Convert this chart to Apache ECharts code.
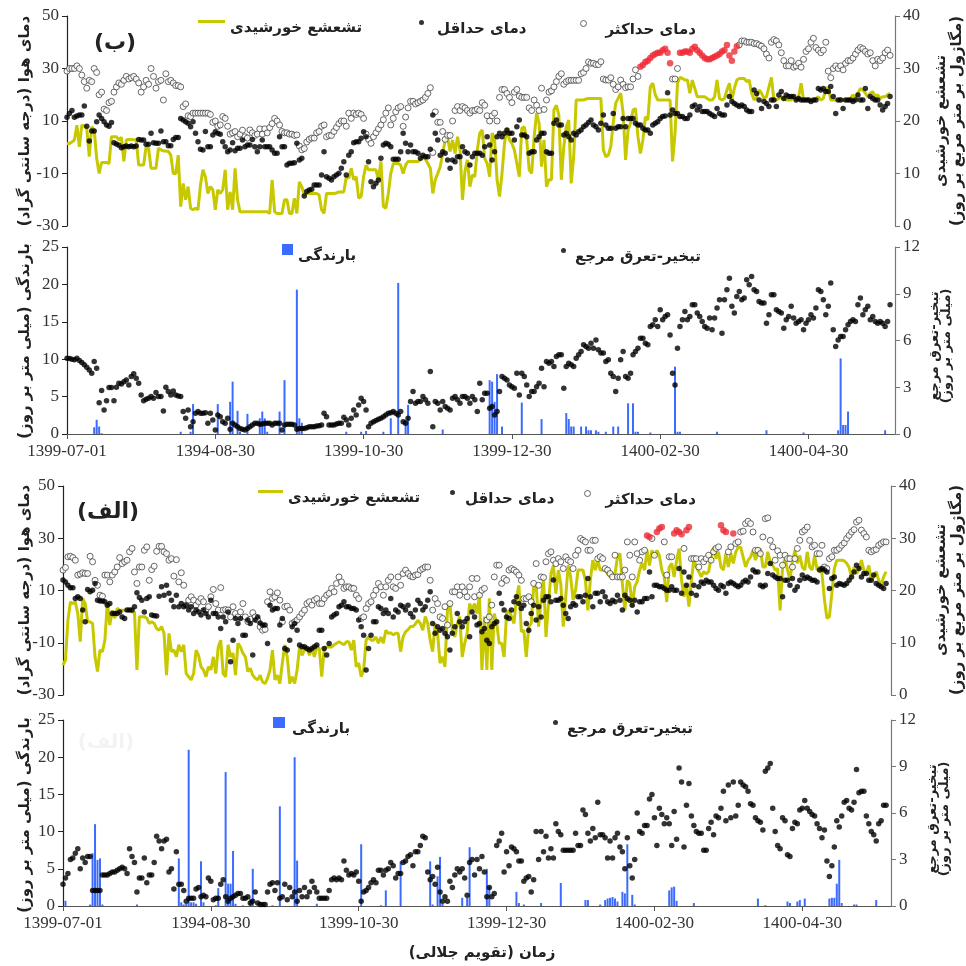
<!DOCTYPE html>
<html>
<head>
<meta charset="utf-8">
<title>chart</title>
<script src="https://cdn.jsdelivr.net/npm/echarts@6/dist/echarts.min.js"></script>
<style>
  html, body { margin: 0; padding: 0; background: #fff; }
  #main { width: 966px; height: 966px; }
</style>
</head>
<body>
<div id="main"></div>
<script type="text/javascript">
// day 0 = 1399-07-01, one value per day
var tickDays = [0, 60, 120, 180, 240, 300];
var tickLabels = ['1399-07-01', '1394-08-30', '1399-10-30', '1399-12-30', '1400-02-30', '1400-04-30'];

// ---- panel (ب) ----
var tmaxB = [
  29,30,30,30,31,30,27.5,25,22.5,25.5,25,30,28.5,20,21,14.5,14,17,17.5,21,
  23,24.5,24,25.5,27,26,26.5,27,26,24.5,21,23,25.5,24,30,27,22.5,25,25.5,18,
  28,25,25.5,24.5,23.5,23.5,23,15.5,16.5,12,11.7,13,13,13,13,13,13,13,12.5,9.5,
  10,8,8.5,11.7,11,8,5,5.5,6,4,5,6.5,4,3.5,6.6,5.5,4.5,5,7,5,
  7,5.5,7.5,9,11,10,8.5,6,5.5,5.5,5,5,4.5,4.7,0.5,-1,-0.5,2,3,3.5,
  3.5,5.5,6,8,8.5,4,4.5,4.5,6,7.5,9,10,10,8,13,11,13,12.5,13,12.5,
  11,5,3,1.5,4,5.5,7,8.5,10.5,13,15,8.5,11,13.5,15,15.5,8,11.5,15,17.5,
  17.5,16.5,17,17.5,18,19,20.5,22.7,-2,13.5,9.5,9.5,6,3,4.5,4.5,10,14,15.5,14,
  15.5,15,14,13,14,14,14.5,14,17,16,12,10,12,13,10,19,22,22,20.5,19,
  17,21,22,19.5,19,19,19,15,14,18,16,14,22.5,14.4,18,21,21.5,23,25,27,
  28,24,25,25.5,25.5,25.5,25.5,25.5,28,28.5,30,32.5,32,32,31.5,31.5,32.6,26,25.6,25.6,
  26.5,24,22,23,25.6,24,22.7,23,23,26,29.5,27,30.7,31.3,32.5,33,34,35,35.5,36,
  36,37,37.5,36,32,26,26,30,36,36,36.5,36.5,36,37.5,38.3,37,36,35,34,33.5,
  33.5,34,34.5,35,35.5,36.5,37,39,35,33,36.5,38.5,39,40.5,40.5,40,40,40,39.5,39.5,
  39,38.5,37.5,35.5,34,40,41,40.5,39,36,33,31,31,33,30.5,31,32,30.5,33.5,36.5,
  37.5,40,41.5,38,37,36,37,40,29,26.5,30,31,30,31,29.5,32,33,33,34,35.5,
  37,38,37.5,36.5,35.5,36,33,31,33.5,33,34,36,37,35
];
var tminB = [
  11.4,12.9,14,11.4,11.9,12.3,12.3,15.7,8,2.4,6.2,6.2,9.7,12.3,11,9.7,8.5,8,9.4,1.7,
  1.2,0.8,-0.2,0.2,0.5,0.2,0.5,0.2,0.5,3,2.8,2.8,1.1,1.1,5.3,1.7,1.5,1.5,6.2,2.1,
  2.1,0.6,0.6,3,3.7,3.7,11,10.4,9.7,9.1,7.8,9.7,5.3,2.1,-0.8,-1,6,0.2,0.2,4.7,
  5.9,5.3,5,2.1,0.2,-1.7,-1,1.7,-1.3,-0.4,-0.4,2.8,0.2,0.9,0.9,3,0.2,-1.7,0.2,2.8,
  0.2,0.2,0.2,-1,-2.3,-2.3,4,0.2,0.2,-6.8,-6.1,-6.1,-5.9,1.5,-4.9,-4.2,-18.6,-16.9,-16.3,-16,
  -14.4,-14.4,-14.4,-10.6,-1.7,-11.2,-11.8,-12.5,-11.2,-10.6,-9.9,-8,-5.5,-10.6,-3,-1.7,1.7,2.1,2.1,3.4,
  5.9,4,-5.5,-13.1,-15,-13.7,-12.5,-4.2,0.9,1.5,1.1,0.2,-4.6,-4.6,-4.6,-1.7,5.3,1.5,-1.7,0.9,
  -1.7,-1.7,-2.3,-4.2,-3,-3.6,-3.6,-0.8,12.3,5.3,2.8,-3,-1.7,-2.3,-4.9,-8,-4.9,-5.5,-3.6,-3.6,
  0.2,-1.7,-2.3,-6.8,-3.6,-2.3,-2.3,-2.3,-3,0.2,4,0.9,-4.9,-1.7,4,5.3,4,5.3,6.6,5.3,
  5.3,2.8,7.8,10.4,4.7,4.7,4,-2.3,-1.7,-1.7,2.8,4,5.3,5.3,-1.7,-2.3,-2.3,9.1,10.4,8.5,
  8.5,4.7,5.3,4,2.8,5.3,4.7,5.9,6.6,7.8,8.5,9.4,10.4,8.5,7.8,6.6,9.1,12.3,8.5,7.2,
  7.2,12.9,7.2,7.8,7.8,11,7.8,11,11,11,9.1,8.5,8.5,7.2,6.6,6.6,5.3,8.5,9.1,9.7,
  11,11.7,11.9,20.8,12.3,14.2,12.9,12.9,11.7,11.7,11,11,12.3,15.5,16.1,14.2,15.5,13.6,13.6,13.6,
  12.9,12.3,11.7,14.8,12.9,12.3,12.3,16.1,19.3,17.4,16.7,16.1,15.5,16.1,15.5,14.2,13.6,13.6,21.8,20.5,
  18,14.8,17.4,16.7,15.5,18,18,15.5,19.9,21.2,18.6,19.9,19.3,19.3,19.3,18,18.6,18,18,18,
  18,17.4,18,18,22.4,21.8,22.4,21.2,21.2,23.1,19.3,12.9,18,18,14.8,18,18,18,17.4,18,
  19.9,18,18,22.4,14.8,19.3,18.6,18,18,16.1,14.2,15.5,16.7,19.3
];
var rsB = [
  15.7,15.7,16,16.4,19.2,15.1,19.2,19,18.6,13.2,18.9,18.3,12.9,10,12.1,12.1,12.1,11.9,17,17,
  17,16.4,16.9,12.3,16.4,16.5,16.5,16.4,16.5,11.6,11.6,11.6,15.1,14.8,11,11,11,14.8,14.5,14.3,
  14.3,14.2,13.5,10,10,13.5,3.7,8.1,5,7.5,3.4,3.1,3.4,3.1,7.8,10.7,9.4,6.2,7.5,6.9,
  3.1,6.9,6.2,6.9,10.7,3.1,6.5,3.1,11,5,2.7,2.7,2.7,2.7,2.7,2.7,2.7,2.7,2.7,2.7,
  2.7,2.7,2.4,8.8,2.7,2.4,2.4,2.4,5,5,2.4,2.4,5.3,2.4,8.4,7.5,5.9,6.2,6.2,6.2,
  6.2,6.2,5.9,3.1,2.4,6.2,6.2,6.2,6.2,6.3,6.5,6.5,6.5,9.4,9.1,11,8.8,9.4,5.3,5.6,
  9.4,11.6,10.7,10.7,10.7,10.7,8.8,12.3,3.7,3.4,6.2,10,11.9,11.9,11.9,11.6,10,11.6,12.3,12.3,
  12.3,12.3,12.3,12.6,13.2,12.7,11.9,11,6.2,8.8,10,11.3,13.8,16.4,16.7,14.2,16.4,13.8,17,14.5,
  5,10.4,12.6,7.5,9.7,9.4,14.5,17.7,18.3,12.9,11.9,9.4,17.7,16.4,8.8,5.6,10,15.7,18.6,16.4,
  15.7,14.5,11.9,9.4,18.6,18.9,16.4,10.7,10,17,21.5,19.6,11.3,16.4,7.5,8.8,8.8,22.1,23,21.1,
  8.8,15.1,18.9,20.2,8.1,13.2,24,24,24,24,24.2,24.3,24.3,24.3,24.3,24.3,24.3,14.5,13.2,13.5,
  15.1,19.6,23.4,24.3,25.3,21.5,12.6,18.3,19.6,22.1,22.4,17,13.8,16.4,20.8,20.2,26.5,27.2,25,24,
  24,24,24,24,24,12.3,17.7,27.2,28.3,28.1,27.8,27.8,25.3,27.8,26.2,24.6,24.6,24.6,24.6,24.3,
  24,24,24.6,27.8,24.3,24,24.3,25.9,27.2,24,26.2,27.8,28.1,28.1,28.1,27.5,27.8,25.3,24,24.6,
  25.9,25.3,24.3,24.6,26.5,28.3,24,24,24.3,24.6,24.3,24,24,24,24.6,24,24.6,27.2,24,24,
  24.3,24,24,24.3,24.6,24,24.3,25.9,26.5,24,24,24,24,24.3,24,24,24,24.3,25,24,
  25.3,26.2,25.9,25.3,24.6,25.3,25.6,24.6,25,24.3,24.6,24.6,25,25.3
];
var et0B = [
  4.86,4.84,4.8,4.76,4.86,4.71,4.59,4.44,4.29,4.11,3.9,4.65,4.22,2.01,2.79,1.54,2.14,2.98,2.98,2.14,
  3,3.26,3.21,3.36,3.47,3.15,3.69,3.86,3.58,3.26,2.51,2.14,2.23,2.29,2.4,2.29,2.66,2.4,2.4,1.48,
  3,2.72,2.51,2.76,2.51,2.44,2.4,1.44,1.01,1.54,0.47,0.79,1.33,1.44,1.33,1.33,1.37,0.69,1.33,0.9,
  0.26,1.22,1.11,0.79,0.69,1.01,0.3,0.69,0.58,0.47,0.36,0.3,0.26,0.36,0.47,0.58,0.69,0.69,0.62,0.64,
  0.69,0.69,0.69,0.58,0.69,0.69,0.69,0.26,0.58,0.62,0.62,0.62,0.58,0.3,0.36,0.36,0.36,0.4,0.47,0.47,
  0.47,0.51,0.53,0.58,1.33,1.11,0.58,0.58,0.58,0.64,0.69,0.69,1.07,0.9,0.58,1.01,1.54,1.22,1.86,2.29,
  2.08,1.54,0.47,0.69,0.79,0.86,0.94,1.01,1.11,1.22,1.33,1.37,1.44,1.33,1.22,1.44,0.79,0.69,1.01,2.08,
  2.72,1.97,2.08,2.08,2.4,2.19,1.97,4.01,0.47,2.08,1.97,1.54,2.08,1.76,1.65,1.54,2.29,2.4,2.19,1.97,
  2.4,2.4,2.29,1.97,2.4,2.19,1.44,3.26,2.19,2.61,2.61,1.65,1.76,1.22,1.44,2.72,3.69,3.58,3.47,3.15,
  3.04,2.94,3.9,2.51,3.9,3.69,3.15,2.4,2.72,2.72,3.04,3.26,4.22,3.04,4.65,4.54,4.65,4.33,4.97,5.08,
  5.08,2.94,4.33,4.54,4.44,4.33,4.86,5.08,5.29,5.72,5.61,5.51,5.83,5.51,6.04,5.4,5.19,5.19,4.65,4.76,
  3.9,3.69,2.72,3.58,4.76,5.29,3.69,3.58,3.9,5.08,5.29,5.51,6.15,6.15,5.83,5.72,6.9,7.01,7.33,6.9,
  7.97,7.33,7.54,7.65,6.36,3.9,3.15,5.51,6.9,7.33,7.86,7.33,7.54,8.29,8.29,7.76,7.54,7.22,6.9,6.79,
  7.44,6.69,7.44,8.08,8.61,6.47,8.61,9.26,10,8.19,7.76,8.83,9.15,8.61,8.72,9.9,9.58,10.1,9.26,9.15,
  8.51,8.4,8.4,7.11,7.65,8.94,8.94,7.97,7.86,7.76,6.79,7.33,7.54,8.19,7.44,7.11,7.22,7.33,6.69,7.11,
  7.33,7.65,7.44,8.08,9.26,9.15,8.61,7.65,8.19,9.69,6.69,5.61,6.04,6.26,6.26,6.69,7.01,7.22,7.33,7.22,
  8.29,8.72,7.65,7.97,8.19,7.33,7.54,7.22,7.11,7.22,7.11,6.9,7.22,8.29
];
// [day, mm]
var rainB = [
  [11,0.9],[12,1.9],[13,1],[14,0.1],[46,0.3],[50,0.3],[51,4],[61,4],[66,4.3],[67,7],[69,3.1],[70,0.3],
  [73,2.7],[78,2.1],[79,3],[80,2.1],[81,0.3],[86,3],[88,7.2],[93,19.3],[94,2.1],[95,1.5],[113,0.3],
  [119,0.3],[121,0.4],[128,0.3],[131,2.1],[134,20.2],[137,1.9],[138,3.9],[152,0.6],[171,7.2],[172,7],
  [173,4.3],[174,8],[176,1],[184,4.2],[192,2],[202,2.8],[203,2],[204,1],[205,1],[208,1],[210,1],
  [211,0.5],[212,0.5],[214,0.5],[215,0.3],[218,0.3],[221,1],[223,1],[227,4.1],[229,4.1],[230,0.3],
  [231,0.3],[236,0.2],[246,9],[247,0.3],[248,0.3],[263,0.3],[283,0.5],[298,0.2],[312,0.5],[313,10.1],
  [314,1.2],[315,1.2],[316,3],[331,0.5]
];
// days whose maximum is drawn in red
var hotB = [232,233,234,235,236,237,238,239,240,241,242,243,244,248,249,250,251,252,253,254,255,256,
  257,258,259,260,261,262,263,264,265,266,267,268,269,270,271];

// ---- panel (الف) ----
var tmaxA = [
  17.8,18.8,22.9,23.1,22.6,21.6,15.9,16.3,16.8,16.5,16.5,23.1,21,13.9,12,8.2,7.8,15.9,15.9,13.3,
  15.9,17.1,19,22.6,20.3,21,21.6,24.8,26.1,17.1,12.7,19,19,25.4,26.7,13.9,18,19.3,25,26.9,
  26.9,24.8,24.1,21.6,22.2,15.5,21.8,13.3,16.8,12,4.4,6.3,7.6,6.3,4.4,5.7,6.9,5.7,2.5,3.8,
  7.6,10.4,5,2.5,11.1,2.5,2.7,2.5,-0.1,3.8,1.2,-0.1,1.8,5,-0.1,-1.9,-1,1.5,-0.1,-1.3,
  -3.9,-5.2,-4.9,5.7,9.5,7,7.6,9.1,6.3,-2,3.8,4,2.5,-2.6,-2,-1.3,-0.1,1.2,2.5,5,
  5.7,4.4,6.3,6.9,5,5,6.9,8.2,8.9,10.8,9.5,12.7,15.2,13.3,10.8,11.4,11.4,10.8,10.8,8.2,
  6.9,-0.7,-0.1,3.1,5,5.7,8.2,10.1,12.7,11.4,8.2,11.4,13.9,15.2,11.4,10.8,15.2,12,16.5,17.8,
  16.5,15.5,15.2,15.9,16.1,17.8,18.4,19,19,13.9,2.5,6.9,5,-0.1,-0.7,3.8,-3.2,5,9.5,9.5,
  11.4,8.2,11.4,9.5,7.6,11.4,14.6,7.6,14.6,8.2,10.1,10.8,-1.3,-0.1,4.4,15.2,19.7,19.7,12.7,14.6,
  13.9,17.8,18.4,17.8,17.1,15.9,13.9,6.9,6.9,7.6,5.7,12.7,20.3,12,15.2,15,21,24.1,24.8,21.6,
  20.3,22.2,21,18.4,22.9,21.6,21,18.4,23.5,25.4,29.9,29.2,28.6,25.4,25.4,29.2,29.2,22.2,22.9,22.2,
  18.4,17.8,16.5,15.2,23.5,15.2,15.2,15.2,17.8,28.6,23.5,15.2,28.6,24.1,21.6,24.8,25.4,31.1,30.5,29.9,
  23.5,32.4,33.7,34.3,28.6,15.9,22.9,22.9,31.8,33.1,32.4,31.5,26.1,33.1,34.3,22.2,22.2,22.2,19,22.2,
  21,22.2,23.5,21.6,24.8,26.1,26.7,35,33.1,32.4,24.8,26.7,31.8,28,28.6,32.4,32.7,35.6,36.5,35.6,
  32.4,25.4,25.4,24.1,30.5,37.5,37.8,29.2,26.7,21.6,25.2,23.5,19.7,23.5,22.2,22.2,19,22.2,26.1,29.2,
  32.4,33.1,34.3,29.2,26.7,27.3,24.1,24.1,27.3,19,18.4,22.2,22.9,25.4,25.4,26.1,27.3,28.2,29.9,31.1,
  32.4,33.3,36.2,36.9,33.1,31.8,30.5,25.4,24.8,25.4,25.7,27.3,28,28.6,28.6
];
var tminA = [
  14,13.3,12,11.1,11.1,6.9,7.6,6.9,2.5,-2,10.4,9.5,10.1,12.7,6.3,6,6,5.7,4.4,5,
  1.2,1.2,1.2,1.8,-0.1,-0.7,2.5,2.5,2.5,3.8,9.1,7.3,6.3,1.8,6.9,7.6,0.6,0.3,0.2,7.8,
  11.4,8.2,12,8.9,6.3,3.8,8.2,3.8,5,3.8,4.4,2.5,3.8,1.2,2.5,1.8,0.6,2.5,1.2,-0.1,
  6.3,1.2,1.2,-0.1,-4.5,-0.1,-2,1.8,-17.3,-9,-0.7,-2.6,-0.7,-7.1,-7.1,-1.3,-2.6,-14.7,-1.3,-0.1,
  -2.4,-3.2,-3.2,-10.3,4.4,2.5,3.1,3.1,-3.2,-0.7,-12.2,-12.8,-9,-3.9,-2.6,-5.2,-10.9,-11.5,-11.5,-12.2,
  -12.8,-12.2,-11.5,-10.9,-5.2,-5.2,-12.2,-14.7,-10.3,-0.1,0.6,1.2,3.8,4.4,5.7,3.8,3.8,3.1,3.1,2.5,
  -1.3,-3.9,-7.1,-20.4,-12.2,-7.1,-2,-2,3.8,3.1,1.2,2.5,1.2,6.9,-0.1,2.5,1.8,4.4,3.8,2.5,
  4.4,1.2,-0.1,2.5,6.3,5,2.5,3.8,6.3,9.5,-2.6,-6.4,-3.9,-5.2,-4.5,-6.4,-7.7,-12.8,-6.4,-3.9,
  1.2,-2,-3.9,-2,-0.7,-7.7,1.8,-0.1,-3.2,-2.6,-5.8,-4.5,-9,-10.3,-3.9,-2.6,-2,8.9,5,2.5,
  -0.1,-0.7,2.5,5.7,7.6,5,3.1,4.4,-2.6,-5.2,1.2,4.4,-1.3,3.8,-0.1,6.3,7.6,7.6,5.7,14,
  6.3,6.3,6.9,4.4,1.2,-0.7,3.8,5,4.4,7.6,7.6,5.7,8.2,14.6,7.6,3.8,8.9,8.9,5.7,9.5,
  7.6,5.7,5,6.3,5.7,8.2,6.3,2.5,8.2,6.9,6.3,4.4,6.3,1.8,5.7,5.7,6.9,6.9,17.1,7.6,
  12,12,11.4,11.4,10.8,10.1,10.1,11.4,10.1,10.1,18.4,8.9,17.1,12,15.2,8.9,12,8.2,11.4,13.3,
  12.7,13.9,13.3,13.3,12,10.8,10.1,12,11.4,8.9,12.7,13.3,12.7,12,11.4,12,13.3,13.9,13.3,15.2,
  17.8,17.1,17.1,12,11.4,12,16.5,20.3,15.9,15.2,14.6,14.6,7.6,13.9,13.9,12,14.6,10.1,11.4,13.9,
  15.9,14.6,15.2,14.6,13.9,13.9,13.3,17.8,18.4,17.8,17.1,10.8,14.6,15.2,12,12.7,12.4,12,12.7,13.9,
  15.2,17.1,19.7,18.4,15.2,16.5,16.5,13.9,13.9,15.9,12.7,12,11.4,10.8,12.7
];
var rsA = [
  5.7,6.7,14.3,17.8,17.5,17.8,15.6,10.2,18.5,17.5,14,14,13.7,7.3,4.5,8.6,8.3,10.5,17.8,13.4,
  16.2,14.7,16.6,16.2,16.2,16.2,16.2,16.2,15.9,15.9,4.8,15,15,15,14.7,13.7,14,13.7,12.7,12.4,
  13.1,11.8,3.8,11.8,8.3,8.6,7.3,9.6,8.3,9.6,4.1,3.5,2.9,4.1,8.6,7.6,5.4,4.8,3.5,5.4,
  4.8,7.3,4.1,9.2,10.5,4.1,3.5,9.6,7.3,8,3.8,9.9,9.2,8,7.3,4.5,5.1,3.8,3.2,2.9,
  3.8,2.5,2.2,3.2,4.8,8.6,2.9,3.8,2.2,6.1,9.6,7.3,2.2,3.5,2.2,4.8,9.2,7.6,8.7,8.9,
  7.6,8.9,7.3,9.2,8.9,3.5,8.9,9.2,9.2,9.2,9.6,9.9,10.2,9.9,9.6,10.2,10.2,8.6,10.5,5.4,
  6.1,3.5,4.8,10.5,11.1,10.5,10.5,11.1,9.9,11.1,9.9,12.4,11.8,11.9,11.5,11.8,11.8,8.3,11.1,12.1,
  12.5,13.1,13.1,13.6,14.3,13.7,12.4,15,13.7,10.5,8.3,13.7,11.8,6.1,7.3,5.4,16.2,17.5,12.4,11.1,
  13.7,15,7.3,9.9,11.8,17.5,16.2,17.5,15.6,19.1,4.8,15,4.8,18.5,4.8,15.6,13.7,9.9,9.9,7.3,
  15.6,16.2,15,13.7,18.5,21,12.1,12.4,7.3,13.1,13.7,20.7,21.3,13.1,17.8,22.3,11.1,17.5,23.2,24.8,
  19.4,23.9,21.3,13.1,18.8,24.8,22.6,18.2,20.1,23.9,23.9,23.9,22,16.2,22,25.8,23.9,25.8,23.9,23.9,
  23.9,23.2,22.6,23.2,23.2,26.4,27.1,21.3,16.2,22,21.3,16.9,20.7,21.7,23.9,25.2,23.9,27.7,24.8,27.7,
  26.4,27.7,26.7,23.9,22.6,17.8,24.5,25.2,22.6,25.8,28,22,18.8,21.3,16.9,22,25.9,24.5,23.6,22.6,
  23.6,23.2,23.6,26.4,28.3,26.1,27.4,24.5,23.9,27.1,24.5,27.1,25.2,27.4,28.3,28.3,26.4,24.5,25.8,26.4,
  27.7,25.8,27.4,28,24.5,24.5,27.4,25.5,24.8,23.9,24.2,16.2,24.5,26.1,24,22,25.5,27.7,25.2,26.7,
  24.5,23.9,27.4,24.5,23.9,26.7,23.9,24.5,23.2,18.2,14.7,15,19.4,24.2,25.8,25.8,25.8,25.7,25.2,24.4,
  22.6,24.5,23.2,24.2,25.8,23.9,23.2,24.8,22,22.6,23.6,22,21,22.6,23.6
];
var et0A = [
  1.4,1.8,2.1,3,3.1,3.4,3.7,2.4,3.1,2.8,3.2,3.2,1,1,1,1,2,2,2,2.1,
  2.2,2.2,2.3,2.4,2.5,2.4,2.1,3.7,3.2,2.8,0.9,1.8,1.8,3.1,1.5,2,2,2.8,4.5,4.2,
  3.7,4.2,4.3,2.2,2.4,1.1,3.5,1.4,1.4,1,0.3,0.5,0.5,0.5,1.1,1.2,0.6,0.7,0.6,1.8,
  1.6,0.4,0.5,0.5,1.4,1.7,0.6,0.3,0.5,0.6,0.7,0.8,0.8,0.5,0.5,0.6,0.2,0.3,0.9,0.2,
  0.1,0.1,0.1,0.9,1.4,1.5,1,1.5,0.5,0.6,1.4,0.4,1.2,0.6,0.9,0.3,1,0.6,1.2,0.6,
  0.9,1.6,1.2,0.9,0.5,0.5,0.5,0.5,1,1.7,1.8,1.7,1.8,1.7,2.9,2.3,2,2.1,2,2.2,
  1.6,0.3,0.9,1,1.2,1.5,1.7,1.5,2.3,2.3,2,2.3,2.4,2.8,2.6,1.8,2.1,2.1,2.8,2.9,
  3.2,3.3,2.6,3.5,3.5,3.9,4.5,4.4,2.2,1.7,1.9,1.4,2.5,0.9,0.3,0.6,0.3,1.6,1.2,2,
  2.4,2.2,2.4,1.8,0.7,2.8,3,2,3,2.4,3.2,2.2,0.6,1.2,0.6,0.8,3.9,4.2,4.7,2.2,
  3.5,2.6,3.8,3.7,3.5,2.9,2.9,1.6,1.8,1.9,0.9,1.7,4.8,3,4.8,3.5,4.5,3.1,3.7,3.1,
  5.3,4.8,4.6,3.6,3.6,3.6,3.6,3.6,4.7,3.9,3.9,6.2,5.9,4.7,4.2,5,4.4,6.7,4.6,4.6,
  4.4,3.1,4.2,3.1,4.4,4.7,3.8,3.5,2.4,4.4,2.6,1.8,3,6,4.8,4.7,5.2,5.2,6.9,7.2,
  5.7,3.9,6.3,5.9,5.3,5.7,5.3,3.9,6.1,4.3,8.9,8,3.8,6.5,7.9,5.8,5.2,4.8,4.7,4.7,
  3.6,3.6,5,5.4,4.6,5.8,5.7,6.3,7.4,5.5,7.8,5.7,8,5.8,6.5,8,7.8,7.7,7.4,6.6,
  6.5,5.7,5.5,5.4,4.9,8.7,8.9,9.2,6.3,4.8,3.9,3.7,5.7,5.5,3.3,3.2,5,5.4,5.3,6.2,
  6.3,6.8,6.3,6.1,5.9,5.8,5.3,5,4.4,4.9,2.9,1.9,2.6,3.8,5.5,5.1,5.8,6.7,6.8,6.3,
  6.2,6.7,8.8,7.3,7.4,7.4,5.8,5.3,4.8,4.6,4.2,5.3,5.5,6.5,6.5
];
var rainA = [
  [1,0.7],[11,0.2],[12,7.1],[13,11],[14,6.2],[15,6.4],[16,0.2],[30,0.2],[47,6.4],[48,0.5],[49,0.2],
  [50,0.3],[51,21],[52,0.5],[53,0.5],[54,0.3],[56,6],[57,0.5],[62,0.1],[63,2.4],[66,18],[67,3],[68,3],
  [69,7.4],[70,0.3],[73,0.1],[76,1],[77,5],[81,0.1],[85,0.1],[88,13.4],[94,20],[95,6.1],[103,0.3],
  [121,8.3],[129,0.1],[131,2.1],[137,6],[149,6],[150,0.2],[152,4],[153,6.6],[154,0.3],[162,1.1],
  [164,1.1],[165,7.9],[172,5],[173,2.6],[184,1.9],[185,0.4],[187,0.2],[194,0.4],[202,3.1],[212,0.8],
  [213,0.8],[218,0.2],[220,0.8],[221,1],[222,1.1],[223,1.2],[224,1],[225,0.6],[227,1.9],[228,1.7],
  [229,8.3],[231,1.5],[232,0.2],[246,2.1],[247,2.5],[248,2.6],[249,0.7],[256,0.4],[282,1],[285,0.1],
  [294,0.6],[295,0.4],[298,0.6],[299,0.8],[301,1],[311,1],[312,1.1],[313,1.1],[314,3],[315,6.2],
  [316,0.4],[321,0.2],[322,0.2],[330,0.8]
];
var hotA = [237,238,241,242,243,248,249,250,251,253,254,267,268,269,272];

var NAME_TMAX = 'دمای حداکثر', NAME_TMIN = 'دمای حداقل', NAME_RS = 'تشعشع خورشیدی',
    NAME_RAIN = 'بارندگی', NAME_ET0 = 'تبخیر-تعرق مرجع';
var RLM = '\u200f';
var FA = '"DejaVu Sans"', NUM = '"Liberation Serif"';

function pts(arr, skip) {
  var out = [];
  arr.forEach(function (v, i) { if (!skip || skip.indexOf(i) < 0) out.push([i, v]); });
  return out;
}
function pick(arr, days) { return days.map(function (d) { return [d, arr[d]]; }); }

var chart = echarts.init(document.getElementById('main'));

var grids = [
  { left: 67, right: 71, top: 16, height: 210 },
  { left: 67, right: 71, top: 247, height: 187 },
  { left: 63, right: 75, top: 486, height: 209 },
  { left: 63, right: 75, top: 720, height: 186 }
];

function xAx(gi, max, show) {
  return {
    type: 'value', gridIndex: gi, min: 0, max: max, interval: 60, show: show,
    splitLine: { show: false },
    axisLine: { show: true, onZero: false, lineStyle: { color: '#555', width: 1.2 } },
    axisTick: { show: true, length: 5, customValues: tickDays, lineStyle: { color: '#555' } },
    axisLabel: {
      customValues: tickDays, margin: 9, color: '#333', fontFamily: NUM, fontSize: 17,
      formatter: function (v) { return tickLabels[Math.round(v / 60)] || ''; }
    }
  };
}
function yAx(gi, pos, min, max, step, lineColor) {
  return {
    type: 'value', gridIndex: gi, position: pos, min: min, max: max, interval: step,
    splitLine: { show: false },
    axisLine: { show: true, lineStyle: { color: lineColor, width: 1.2 } },
    axisTick: { show: true, length: 5, lineStyle: { color: lineColor } },
    axisLabel: { margin: 8, color: '#333', fontFamily: NUM, fontSize: 17 }
  };
}

var hollow = { color: '#fff', borderColor: '#444', borderWidth: 1 };

function tempSeries(xi, yl, yr, tmax, tmin, rs, hot) {
  return [
    { name: NAME_RS, type: 'line', xAxisIndex: xi, yAxisIndex: yr, data: pts(rs), showSymbol: false,
      lineStyle: { color: '#c8c800', width: 3 }, itemStyle: { color: '#c8c800' }, z: 2 },
    { name: NAME_TMAX, type: 'scatter', xAxisIndex: xi, yAxisIndex: yl, data: pts(tmax, hot),
      symbolSize: 6, itemStyle: hollow, z: 3 },
    { name: NAME_TMIN, type: 'scatter', xAxisIndex: xi, yAxisIndex: yl, data: pts(tmin),
      symbolSize: 5.5, itemStyle: { color: '#000' }, z: 4 },
    { name: 'hot', type: 'scatter', xAxisIndex: xi, yAxisIndex: yl, data: pick(tmax, hot),
      symbolSize: 6.5, itemStyle: { color: '#ee2a36' }, z: 5 }
  ];
}
function waterSeries(xi, yl, yr, rain, et0) {
  return [
    { name: NAME_RAIN, type: 'bar', xAxisIndex: xi, yAxisIndex: yl, data: rain, barWidth: 2,
      itemStyle: { color: '#3b6cff' }, z: 2 },
    { name: NAME_ET0, type: 'scatter', xAxisIndex: xi, yAxisIndex: yr, data: pts(et0),
      symbolSize: 5.5, itemStyle: { color: '#000' }, z: 3 }
  ];
}

// legend text sits a little lower than its marker, as in the source figure
function leg(name, x, y, icon, w, h, style, gap) {
  return {
    data: [{ name: name, icon: icon, itemStyle: style }], left: x, top: y, padding: 0,
    itemWidth: w, itemHeight: h, itemGap: 0, selectedMode: false,
    textStyle: { rich: { t: { fontFamily: FA, fontWeight: 'bold', fontSize: 15, color: '#222',
      padding: [14, 0, 0, gap || 0] } } },
    formatter: function (n) { return '{t|' + n + '}'; }
  };
}

function vText(text, x, y, size, lh) {
  return {
    type: 'text', x: x, y: y, rotation: Math.PI / 2, silent: true,
    style: { text: text, align: 'center', verticalAlign: 'middle', fontFamily: FA, fontWeight: 'bold',
      fontSize: size, lineHeight: lh, fill: '#222' }
  };
}
function hText(text, x, y, size, color) {
  return {
    type: 'text', x: x, y: y, silent: true,
    style: { text: text, align: 'center', verticalAlign: 'middle', fontFamily: FA, fontWeight: 'bold',
      fontSize: size, fill: color || '#222' }
  };
}

var option = {
  animation: false,
  backgroundColor: '#fff',
  grid: grids,
  xAxis: [xAx(0, 335, false), xAx(1, 335, true), xAx(2, 336, false), xAx(3, 336, true)],
  yAxis: [
    yAx(0, 'left', -30, 50, 20, '#222'), yAx(0, 'right', 0, 40, 10, '#777'),
    yAx(1, 'left', 0, 25, 5, '#222'), yAx(1, 'right', 0, 12, 3, '#777'),
    yAx(2, 'left', -30, 50, 20, '#222'), yAx(2, 'right', 0, 40, 10, '#777'),
    yAx(3, 'left', 0, 25, 5, '#222'), yAx(3, 'right', 0, 12, 3, '#777')
  ],
  legend: [
    leg(NAME_RS, 198, 20, 'rect', 27, 3, { color: '#c8c800' }, 0),
    leg(NAME_TMIN, 419, 20, 'circle', 5, 5, { color: '#000' }, 8),
    leg(NAME_TMAX, 580, 20, 'circle', 6, 6, hollow, 14),
    leg(NAME_RAIN, 282, 244, 'rect', 11, 11, { color: '#3b6cff' }, 0),
    leg(NAME_ET0, 561, 248, 'circle', 5, 5, { color: '#000' }, 4),
    leg(NAME_RS, 258, 490, 'rect', 25, 3, { color: '#c8c800' }, 0),
    leg(NAME_TMIN, 450, 490, 'circle', 5, 5, { color: '#000' }, 5),
    leg(NAME_TMAX, 584, 490, 'circle', 6, 6, hollow, 10),
    leg(NAME_RAIN, 273, 717, 'rect', 12, 11, { color: '#3b6cff' }, 2),
    leg(NAME_ET0, 553, 720, 'circle', 5, 5, { color: '#000' }, 4)
  ],
  graphic: [
    hText('(ب)', 115, 43, 22),
    hText('(الف)', 108, 512, 22),
    hText('(الف)', 106, 743, 20, '#f3f3f3'),
    vText(RLM + 'دمای هوا (درجه سانتی گراد)' + RLM, 25, 121, 15, 18),
    vText(RLM + 'تشعشع خورشیدی' + RLM + '\n' + RLM + '(مگاژول بر متر مربع بر روز)' + RLM, 949, 121, 15, 16),
    vText(RLM + 'بارندگی (میلی متر بر روز)' + RLM, 25, 341, 15, 18),
    vText(RLM + 'تبخیر-تعرق مرجع' + RLM + '\n' + RLM + '(میلی متر بر روز)' + RLM, 941, 346, 13, 12),
    vText(RLM + 'دمای هوا (درجه سانتی گراد)' + RLM, 25, 590, 15, 18),
    vText(RLM + 'تشعشع خورشیدی' + RLM + '\n' + RLM + '(مگاژول بر متر مربع بر روز)' + RLM, 949, 590, 15, 16),
    vText(RLM + 'بارندگی (میلی متر بر روز)' + RLM, 25, 815, 15, 18),
    vText(RLM + 'تبخیر-تعرق مرجع' + RLM + '\n' + RLM + '(میلی متر بر روز)' + RLM, 939, 819, 13, 12),
    hText(RLM + 'زمان (تقویم جلالی)' + RLM, 482, 953, 15)
  ],
  series: [].concat(
    tempSeries(0, 0, 1, tmaxB, tminB, rsB, hotB),
    waterSeries(1, 2, 3, rainB, et0B),
    tempSeries(2, 4, 5, tmaxA, tminA, rsA, hotA),
    waterSeries(3, 6, 7, rainA, et0A)
  )
};

chart.setOption(option);
</script>
</body>
</html>
